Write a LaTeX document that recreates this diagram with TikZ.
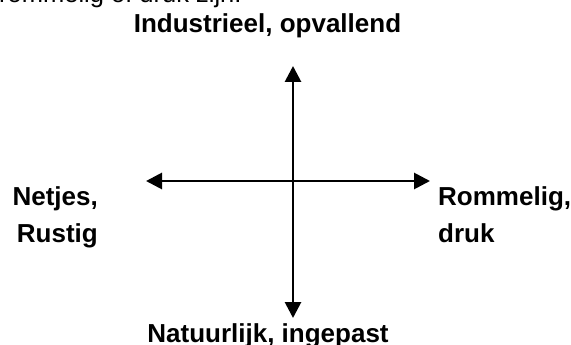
\documentclass[tikz,border=0pt]{standalone}
\usepackage{fontspec}
\setmainfont{Liberation Sans}
\usetikzlibrary{arrows.meta}
\begin{document}
\begin{tikzpicture}[x=1pt,y=-1pt,
  lbl/.style={font=\bfseries\fontsize{26}{37}\selectfont, inner sep=0pt},
  note/.style={font=\fontsize{25.5}{30}\selectfont, inner sep=0pt},
  axis/.style={line width=2.8pt,
    {Triangle[length=16pt,width=16pt]}-{Triangle[length=16pt,width=16pt]}}]
\useasboundingbox (0,0) rectangle (571,345);
\clip (0,0) rectangle (571,345);

% line of running text above the chart, cut by the top edge
\node[note, anchor=base west] (intro) at (-1,3) {rommelig of druk zijn.};

% end points of the two axes
\coordinate (top) at (293,66);
\coordinate (bottom) at (293,318);
\coordinate (left) at (146,181);
\coordinate (right) at (430,181);

% pole labels
\node[lbl, anchor=base] (north) at (267.5,33) {Industrieel, opvallend};
\node[lbl, anchor=base] (south) at (268,342) {Natuurlijk, ingepast};
\node[lbl, align=right, anchor=north east] (west) at (98,186) {Netjes,\\Rustig};
\node[lbl, align=left, anchor=north west] (east) at (438,186) {Rommelig,\\druk};

% axes
\draw[axis] (top) -- (bottom);
\draw[axis] (left) -- (right);
\end{tikzpicture}
\end{document}
